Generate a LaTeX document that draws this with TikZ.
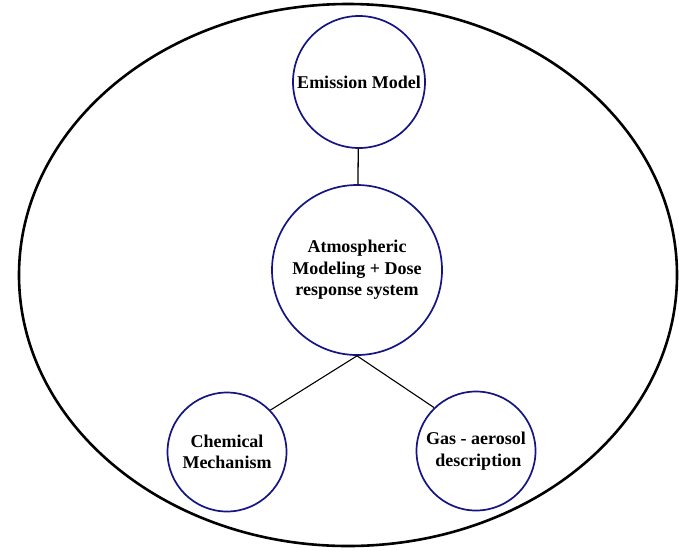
\documentclass[tikz,border=0pt]{standalone}
\usepackage{fontspec}
\setmainfont{Liberation Serif}
\usepackage{tikz}
\definecolor{navy}{RGB}{20,20,130}
\tikzset{bubble/.style={circle,draw=navy,line width=1.7pt,align=center,inner sep=0pt,
    font=\bfseries\fontsize{18}{21.5}\selectfont}}
\begin{document}
\begin{tikzpicture}[x=1pt, y=-1pt]
			\useasboundingbox (0,0) rectangle (679,550);
			\draw[line width=2.6pt] (348,275) ellipse [x radius=329pt, y radius=271pt];
			\node (emission) at (359,82) [bubble,minimum size=132pt] {Emission Model};
			\node (atmo) at (357,270) [bubble,minimum size=170pt] {Atmospheric\\Modeling + Dose\\response system};
			\node (chem) at (227,452) [bubble,minimum size=119pt] {Chemical\\Mechanism};
			\node (gas) at (476,451) [bubble,minimum size=119pt] {Gas - aerosol\\\ description};
			\draw[line width=1.3pt] (emission) to (atmo);
			\draw[line width=1.1pt] (atmo.south) to (chem.44);
			\draw[line width=1.1pt] (atmo.south) to (gas.134);
		\end{tikzpicture}
\end{document}
